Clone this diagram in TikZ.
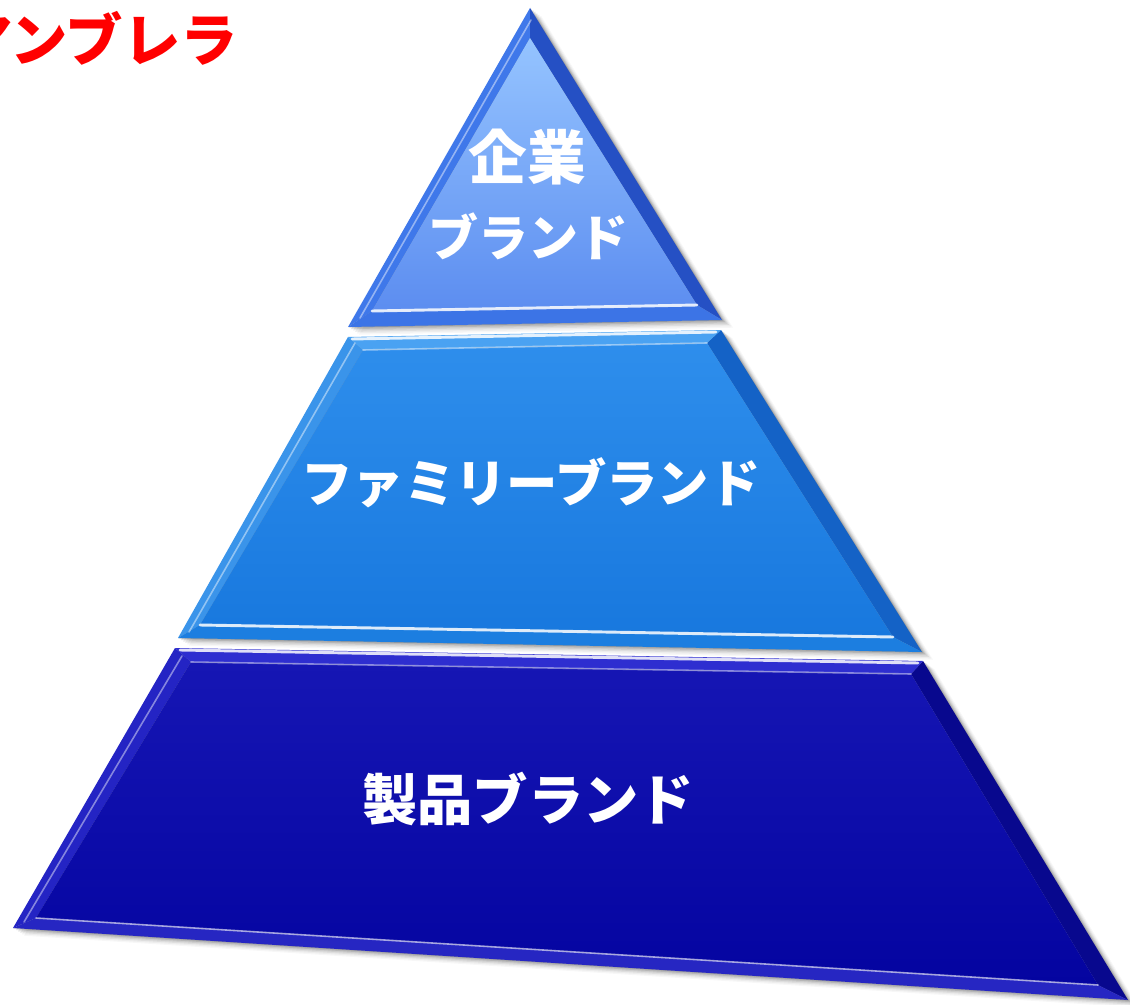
\documentclass[tikz,border=0pt]{standalone}
\usepackage{fontspec}
\newfontfamily\jp{Noto Sans CJK JP}
\definecolor{tAin1}{HTML}{95C4FF}
\definecolor{tAin2}{HTML}{5C8DF0}
\definecolor{tAl}{HTML}{3F78EA}
\definecolor{tAr}{HTML}{2550C4}
\definecolor{tAb}{HTML}{3C74E6}
\definecolor{tBin1}{HTML}{2E8EEC}
\definecolor{tBin2}{HTML}{1878DE}
\definecolor{tBl}{HTML}{3A94EA}
\definecolor{tBr}{HTML}{1462C6}
\definecolor{tBt}{HTML}{4AA2F2}
\definecolor{tBb}{HTML}{1C7EE0}
\definecolor{tCin1}{HTML}{1616B4}
\definecolor{tCin2}{HTML}{0404A0}
\definecolor{tCl}{HTML}{2424C4}
\definecolor{tCr}{HTML}{08088E}
\definecolor{tCt}{HTML}{2E2ED0}
\definecolor{tCb}{HTML}{2626C2}
\tikzset{
  txt/.style={text=white, inner sep=0pt, align=center},
  hl/.style={white, line width=2.2pt, opacity=.85, line cap=round},
  hlsoft/.style={white, line width=1.2pt, opacity=.45, line cap=round},
}
\begin{document}
\begin{tikzpicture}[x=0.75pt,y=-0.75pt]
\path[use as bounding box] (0,0) rectangle (1130,1005);
\clip (0,0) rectangle (1130,1005);
\fill[white] (0,0) rectangle (1130,1005);

% soft drop shadow
\foreach \d/\o in {1/.14,3/.11,5/.08,7/.06,9/.04,11/.03}{
  \fill[black, opacity=\o, shift={(\d,\d*0.7)}]
    (530,8) -- (348,327) -- (722,320) -- cycle
    (348,337) -- (721,330) -- (922,652) -- (178,638) -- cycle
    (175,648) -- (923,661) -- (1128,1000) -- (13,928) -- cycle;
}

% ---------- top tier ----------
\coordinate (A) at (530,8);
\coordinate (B) at (348,327);
\coordinate (C) at (722,320);
\coordinate (a) at (530,38);
\coordinate (b) at (372,311);
\coordinate (c) at (697,305);
\fill[tAl] (A) -- (B) -- (b) -- (a) -- cycle;
\fill[tAr] (A) -- (a) -- (c) -- (C) -- cycle;
\fill[tAb] (B) -- (C) -- (c) -- (b) -- cycle;
\shade[top color=tAin1, bottom color=tAin2] (a) -- (b) -- (c) -- cycle;
\draw[hl] (b) -- (c);
\draw[hlsoft] (531,20) -- (360,318);

% ---------- middle tier ----------
\coordinate (P1) at (348,337);
\coordinate (P2) at (721,330);
\coordinate (P3) at (922,652);
\coordinate (P4) at (178,638);
\coordinate (p1) at (363,350);
\coordinate (p2) at (707,343);
\coordinate (p3) at (893,637);
\coordinate (p4) at (200,625);
\fill[tBl] (P1) -- (P4) -- (p4) -- (p1) -- cycle;
\fill[tBr] (P2) -- (p2) -- (p3) -- (P3) -- cycle;
\fill[tBt] (P1) -- (P2) -- (p2) -- (p1) -- cycle;
\fill[tBb] (P4) -- (P3) -- (p3) -- (p4) -- cycle;
\shade[top color=tBin1, bottom color=tBin2] (p1) -- (p2) -- (p3) -- (p4) -- cycle;
\draw[hl] (352,339) -- (716,332);
\draw[hlsoft] (p1) -- (p2);
\draw[hl] (p4) -- (p3);
\draw[hlsoft] (355,343) -- (189,632);

% ---------- bottom tier ----------
\coordinate (Q1) at (175,648);
\coordinate (Q2) at (923,661);
\coordinate (Q3) at (1128,1000);
\coordinate (Q4) at (13,928);
\coordinate (q1) at (191,662);
\coordinate (q2) at (911,674);
\coordinate (q3) at (1098,985);
\coordinate (q4) at (36,918);
\fill[tCl] (Q1) -- (Q4) -- (q4) -- (q1) -- cycle;
\fill[tCr] (Q2) -- (q2) -- (q3) -- (Q3) -- cycle;
\fill[tCt] (Q1) -- (Q2) -- (q2) -- (q1) -- cycle;
\fill[tCb] (Q4) -- (Q3) -- (q3) -- (q4) -- cycle;
\shade[top color=tCin1, bottom color=tCin2] (q1) -- (q2) -- (q3) -- (q4) -- cycle;
\draw[hl] (180,650) -- (918,663);
\draw[hlsoft] (q1) -- (q2);
\draw[hlsoft, opacity=.6] (q4) -- (q3);
\draw[hlsoft] (182,656) -- (24,922);

% ---------- labels ----------
\node[txt, font=\jp\bfseries\fontsize{44}{48}\selectfont] (t1) at (527,157) {企業};
\node[txt, font=\jp\bfseries\fontsize{37.5}{42}\selectfont] (t2) at (528,236) {ブランド};
\node[txt, font=\jp\bfseries\fontsize{38.5}{44}\selectfont] (t3) at (531,483) {ファミリーブランド};
\node[txt, font=\jp\bfseries\fontsize{41.5}{46}\selectfont] (t4) at (528,799) {製品ブランド};

\node[anchor=east, inner sep=0pt, text={rgb,255:red,255;green,0;blue,0},
      font=\jp\bfseries\fontsize{43}{48}\selectfont] (umb) at (238,38) {アンブレラ};
\end{tikzpicture}
\end{document}
